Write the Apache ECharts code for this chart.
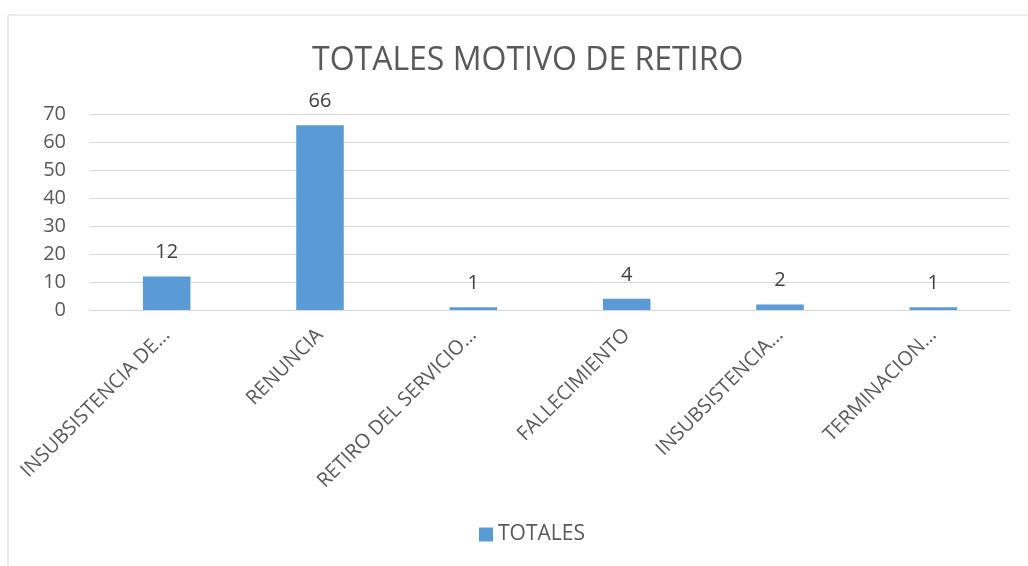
<!DOCTYPE html>
<html>
<head>
<meta charset="utf-8">
<script src="https://cdn.jsdelivr.net/npm/echarts@6/dist/echarts.min.js"></script>
<style>
  html, body { margin: 0; padding: 0; background: #fff; }
  #chart { width: 1028px; height: 566px; }
</style>
</head>
<body>
<div id="chart"></div>
<script>
// datos
const categorias = [
  'INSUBSISTENCIA DE…',
  'RENUNCIA',
  'RETIRO DEL SERVICIO…',
  'FALLECIMIENTO',
  'INSUBSISTENCIA…',
  'TERMINACION…'
];
const totales = [12, 66, 1, 4, 2, 1];
const serieNombre = 'TOTALES';
const titulo = 'TOTALES MOTIVO DE RETIRO';

const fuente = '"Open Sans", "Liberation Sans", sans-serif';

const chart = echarts.init(document.getElementById('chart'));

const option = {
  backgroundColor: '#fff',
  color: ['#5B9BD5'],
  title: {
    text: titulo,
    left: 307,
    top: 40,
    textStyle: {
      fontFamily: fuente,
      fontSize: 32,
      fontWeight: 'normal',
      color: '#595959'
    }
  },
  legend: {
    data: [serieNombre],
    icon: 'rect',
    bottom: 16,
    left: 474,
    itemWidth: 14,
    itemHeight: 14,
    itemGap: 4,
    textStyle: { fontFamily: fuente, fontSize: 21, color: '#595959' }
  },
  grid: {
    left: 90,
    right: 18,
    top: 114,
    bottom: 256,
    containLabel: false
  },
  xAxis: {
    type: 'category',
    data: categorias,
    axisTick: { show: false },
    axisLine: { lineStyle: { color: '#D9D9D9', width: 1 } },
    axisLabel: {
      rotate: 45,
      interval: 0,
      margin: 22,
      fontFamily: fuente,
      fontSize: 20,
      color: '#595959'
    }
  },
  yAxis: {
    type: 'value',
    min: 0,
    max: 70,
    interval: 10,
    axisLine: { show: false },
    axisTick: { show: false },
    axisLabel: {
      margin: 24,
      fontFamily: fuente,
      fontSize: 20,
      color: '#595959'
    },
    splitLine: { lineStyle: { color: '#D9D9D9', width: 1 } }
  },
  series: [
    {
      name: serieNombre,
      type: 'bar',
      data: totales,
      barWidth: '31%',
      label: {
        show: true,
        position: 'top',
        distance: 14,
        fontFamily: fuente,
        fontSize: 20,
        color: '#404040'
      }
    }
  ],
  graphic: [
    {
      type: 'polyline',
      shape: { points: [[8, 566], [8, 15], [1028, 15]] },
      style: { stroke: '#D9D9D9', fill: null, lineWidth: 1 },
      silent: true
    }
  ]
};

chart.setOption(option);
</script>
</body>
</html>
